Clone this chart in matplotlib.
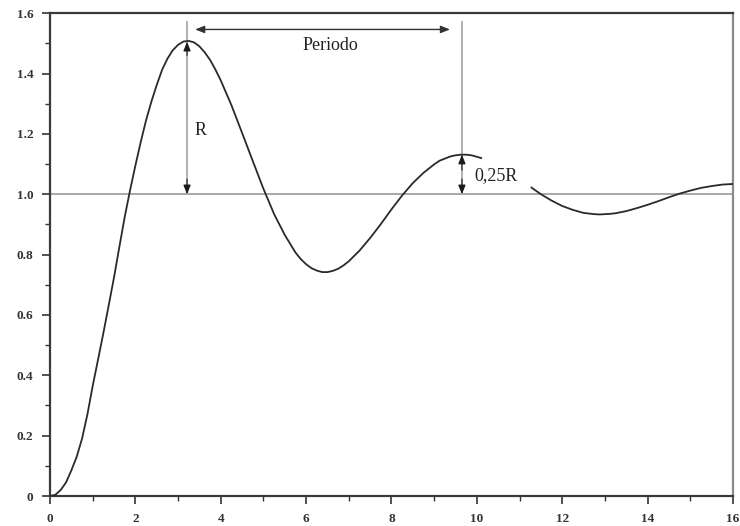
import numpy as np
import matplotlib
matplotlib.use("Agg")
import matplotlib.pyplot as plt
from matplotlib.ticker import MultipleLocator, FixedLocator

# Step response (gap where the "0,25R" label sits)
t = [0.0, 0.125, 0.25, 0.375, 0.5, 0.625, 0.75, 0.875, 1.0, 1.125, 1.25, 1.375,
     1.5, 1.625, 1.75, 1.875, 2.0, 2.125, 2.25, 2.375, 2.5, 2.625, 2.75, 2.875,
     3.0, 3.125, 3.25, 3.375, 3.5, 3.625, 3.75, 3.875, 4.0, 4.25, 4.5, 4.75, 5.0,
     5.25, 5.5, 5.75, 5.875, 6.0, 6.125, 6.25, 6.375, 6.5, 6.625, 6.75, 6.875,
     7.0, 7.25, 7.5, 7.75, 8.0, 8.25, 8.5, 8.75, 9.0, 9.125, 9.25, 9.375, 9.5,
     9.625, 9.75, 9.875, 10.0, 10.1,
     10.7,
     11.28, 11.5, 11.75, 12.0, 12.25, 12.5, 12.625, 12.75, 12.875, 13.0, 13.125,
     13.25, 13.5, 13.75, 14.0, 14.25, 14.5, 14.75, 15.0, 15.25, 15.5, 15.75, 16.0]
y = [0.0, 0.004, 0.02, 0.045, 0.085, 0.13, 0.19, 0.27, 0.365, 0.452, 0.54, 0.632,
     0.725, 0.826, 0.925, 1.013, 1.095, 1.173, 1.245, 1.307, 1.362, 1.412, 1.449,
     1.477, 1.495, 1.506, 1.508, 1.503, 1.490, 1.470, 1.445, 1.413, 1.377, 1.295,
     1.203, 1.110, 1.018, 0.934, 0.865, 0.807, 0.785, 0.768, 0.755, 0.747, 0.742,
     0.742, 0.746, 0.753, 0.764, 0.778, 0.813, 0.855, 0.901, 0.950, 0.996, 1.037,
     1.071, 1.099, 1.111, 1.118, 1.125, 1.129, 1.131, 1.131, 1.129, 1.124, 1.120,
     np.nan,
     1.022, 1.000, 0.979, 0.961, 0.948, 0.938, 0.936, 0.934, 0.933, 0.934, 0.935,
     0.937, 0.944, 0.954, 0.965, 0.977, 0.990, 1.002, 1.012, 1.021, 1.027, 1.032,
     1.034]

x_ticks = [0, 2, 4, 6, 8, 10, 12, 14, 16]
x_labels = ["0", "2", "4", "6", "8", "10", "12", "14", "16"]
y_ticks = [0, 0.2, 0.4, 0.6, 0.8, 1.0, 1.2, 1.4, 1.6]
y_labels = ["0", "0.2", "0.4", "0.6", "0.8", "1.0", "1.2", "1.4", "1.6"]

setpoint = 1.0
peak_t, peak_y = 3.21, 1.505
peak2_t, peak2_y = 9.65, 1.131
guide_top = 1.57
period_y = 1.546
period_x0, period_x1 = 3.40, 9.37

plt.rcParams['font.family'] = ['Liberation Serif', 'DejaVu Serif']

fig = plt.figure(figsize=(7.4, 5.26), dpi=100)
ax = fig.add_axes([0.0676, 0.057, 0.9229, 0.918])

# reference line and guides
ax.axhline(setpoint, color='#999999', lw=1.2, zorder=1)
ax.plot([peak_t, peak_t], [setpoint, guide_top], color='#b0b0b0', lw=1.4, zorder=1)
ax.plot([peak2_t, peak2_t], [setpoint, guide_top], color='#b0b0b0', lw=1.4, zorder=1)

# curve
ax.plot(t, y, color='#2a2a2a', lw=1.3, zorder=3, solid_joinstyle='round')

# arrows
head = dict(color='#1a1a1a', lw=0.8, shrinkA=0, shrinkB=0)
def head_arrow(x, y0, y1):
    ax.annotate('', xy=(x, y1), xytext=(x, y0),
                arrowprops=dict(arrowstyle='-|>,head_length=0.55,head_width=0.22', **head))

head_arrow(peak_t, 1.46, peak_y)
head_arrow(peak_t, 1.05, setpoint)
head_arrow(peak2_t, 1.08, peak2_y)
head_arrow(peak2_t, 1.05, setpoint)

ax.annotate('', xy=(period_x1, period_y), xytext=(period_x0, period_y),
            arrowprops=dict(arrowstyle='<|-|>,head_length=0.55,head_width=0.22',
                            color='#333333', lw=1.0, shrinkA=0, shrinkB=0))

ax.text(6.56, 1.493, 'Periodo', ha='center', va='center', fontsize=13, color='#222222')
ax.text(3.38, 1.21, 'R', ha='left', va='center', fontsize=13, color='#222222')
ax.text(9.95, 1.063, '0,25R', ha='left', va='center', fontsize=13, color='#222222')

ax.set_xlim(0, 16)
ax.set_ylim(0, 1.6)
ax.xaxis.set_major_locator(FixedLocator(x_ticks))
ax.set_xticklabels(x_labels)
ax.yaxis.set_major_locator(FixedLocator(y_ticks))
ax.set_yticklabels(y_labels)
ax.xaxis.set_minor_locator(MultipleLocator(1))
ax.yaxis.set_minor_locator(MultipleLocator(0.1))

ax.tick_params(which='major', direction='out', length=6, width=1.2, color='#333333',
               labelsize=9.5, labelcolor='#333333')
ax.tick_params(axis='y', which='major', pad=6)
ax.tick_params(axis='x', which='major', pad=6)
ax.tick_params(which='minor', direction='out', length=3.5, width=1.0, color='#333333')
for lab in ax.get_xticklabels() + ax.get_yticklabels():
    lab.set_fontweight('bold')

for side in ['left', 'bottom', 'top']:
    ax.spines[side].set_color('#3a3a3a')
    ax.spines[side].set_linewidth(1.6)
ax.spines['right'].set_color('#8a8a8a')
ax.spines['right'].set_linewidth(1.6)

fig.savefig('out.png', dpi=100)
